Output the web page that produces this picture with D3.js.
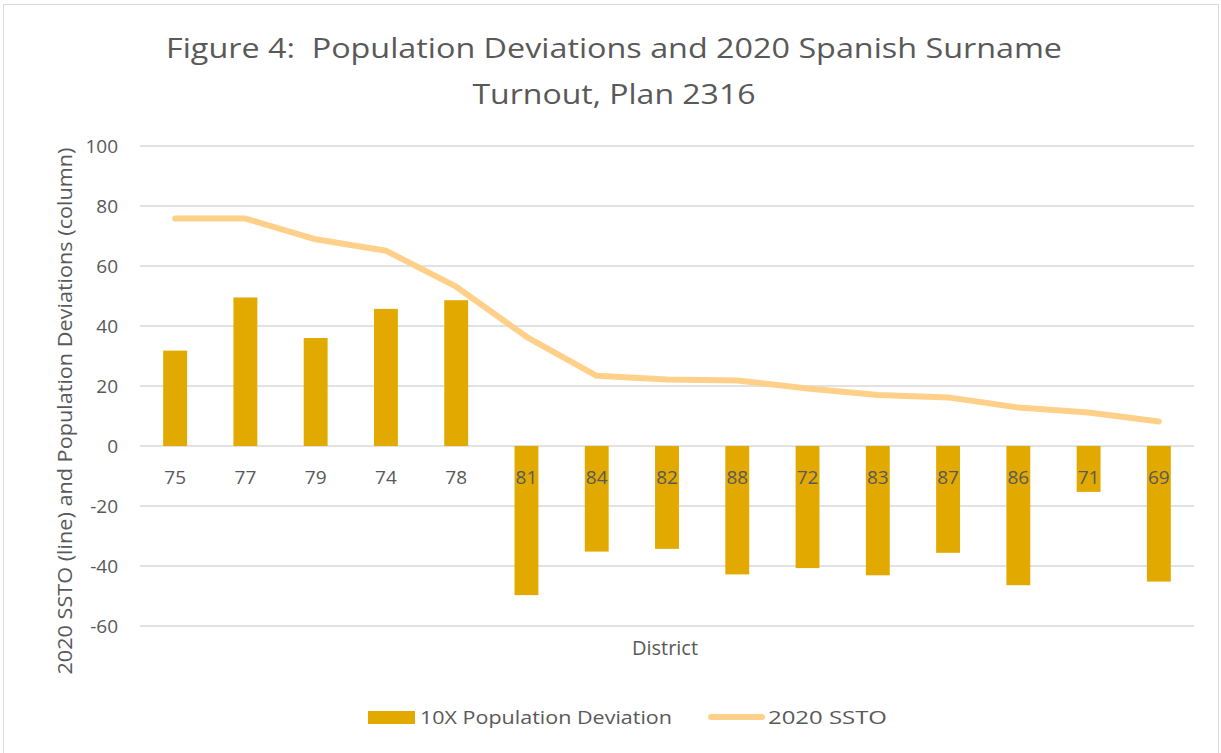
<!DOCTYPE html>
<html>
<head>
<meta charset="utf-8">
<script src="https://cdn.jsdelivr.net/npm/d3@7"></script>
<style>
  body { margin: 0; background: #fff; }
  text { font-family: "Open Sans", "Noto Sans", sans-serif; fill: #595959; white-space: pre; }
</style>
</head>
<body>
<div id="chart"></div>
<script>
// --- DATA ---
const districts = ["75","77","79","74","78","81","84","82","88","72","83","87","86","71","69"];
const popDeviation = [31.8, 49.5, 36.0, 45.7, 48.6, -49.7, -35.2, -34.3, -42.8, -40.7, -43.1, -35.6, -46.4, -15.3, -45.2];
const ssto = [75.8, 75.8, 68.9, 65.1, 53.1, 36.4, 23.4, 22.2, 21.8, 19.2, 17.0, 16.2, 12.8, 11.2, 8.2];
const yTicks = [100, 80, 60, 40, 20, 0, -20, -40, -60];
const titleLines = ["Figure 4:  Population Deviations and 2020 Spanish Surname", "Turnout, Plan 2316"];
const seriesNames = ["10X Population Deviation", "2020 SSTO"];

function drawChart() {
  const W = 1221, H = 753;
  const barColor = "#E2AA00", lineColor = "#FFD08A", gridColor = "#D9D9D9";
  const plot = { left: 140, right: 1194, top: 146, bottom: 626 };

  const svg = d3.select("#chart").append("svg").attr("width", W).attr("height", H);

  // chart frame
  svg.append("rect")
    .attr("x", 3.5).attr("y", 4.5).attr("width", W - 6).attr("height", H)
    .attr("fill", "none").attr("stroke", gridColor).attr("stroke-width", 1);

  const x = d3.scaleBand().domain(districts).range([plot.left, plot.right]).paddingInner(0.66).paddingOuter(0.33);
  const y = d3.scaleLinear().domain([-60, 100]).range([plot.bottom, plot.top]);

  // gridlines
  svg.append("g").selectAll("line").data(yTicks).join("line")
    .attr("x1", plot.left).attr("x2", plot.right)
    .attr("y1", d => y(d)).attr("y2", d => y(d))
    .attr("stroke", gridColor).attr("stroke-width", 1.5);

  // y tick labels
  svg.append("g").selectAll("text").data(yTicks).join("text")
    .attr("x", 118).attr("y", d => y(d)).attr("dy", "0.35em")
    .attr("text-anchor", "end").style("font-size", "19px")
    .text(d => d);

  // bars
  svg.append("g").selectAll("rect").data(districts).join("rect")
    .attr("x", d => x(d))
    .attr("width", x.bandwidth())
    .attr("y", (d, i) => y(Math.max(0, popDeviation[i])))
    .attr("height", (d, i) => Math.abs(y(popDeviation[i]) - y(0)))
    .attr("fill", barColor);

  // category labels (drawn at zero line, over bars)
  svg.append("g").selectAll("text").data(districts).join("text")
    .attr("x", d => x(d) + x.bandwidth() / 2).attr("y", y(0) + 38)
    .attr("text-anchor", "middle").style("font-size", "19px")
    .text(d => d);

  // line
  const line = d3.line()
    .x((d, i) => x(districts[i]) + x.bandwidth() / 2)
    .y(d => y(d));
  svg.append("path").datum(ssto)
    .attr("fill", "none").attr("stroke", lineColor)
    .attr("stroke-width", 6).attr("stroke-linecap", "round").attr("stroke-linejoin", "round")
    .attr("d", line);

  // title
  svg.append("text").attr("x", 614).attr("y", 58).attr("text-anchor", "middle")
    .style("font-size", "28px")
    .attr("textLength", 896).attr("lengthAdjust", "spacingAndGlyphs")
    .text(titleLines[0]);
  svg.append("text").attr("x", 614).attr("y", 104).attr("text-anchor", "middle")
    .style("font-size", "28px")
    .attr("textLength", 283).attr("lengthAdjust", "spacingAndGlyphs")
    .text(titleLines[1]);

  // axis titles
  svg.append("text")
    .attr("transform", `translate(72, ${411}) rotate(-90)`)
    .attr("text-anchor", "middle").style("font-size", "20px")
    .attr("textLength", 527).attr("lengthAdjust", "spacingAndGlyphs")
    .text("2020 SSTO (line) and Population Deviations (column)");
  svg.append("text").attr("x", 665).attr("y", 655).attr("text-anchor", "middle")
    .style("font-size", "20px").text("District");

  // legend
  const lg = svg.append("g");
  lg.append("rect").attr("x", 368).attr("y", 711).attr("width", 47).attr("height", 13).attr("fill", barColor);
  lg.append("text").attr("x", 420).attr("y", 717).attr("dy", "0.35em").style("font-size", "19px")
    .attr("textLength", 252).attr("lengthAdjust", "spacingAndGlyphs")
    .text(seriesNames[0]);
  lg.append("line").attr("x1", 711).attr("x2", 762).attr("y1", 717).attr("y2", 717)
    .attr("stroke", lineColor).attr("stroke-width", 6).attr("stroke-linecap", "round");
  lg.append("text").attr("x", 768).attr("y", 717).attr("dy", "0.35em").style("font-size", "19px")
    .attr("textLength", 119).attr("lengthAdjust", "spacingAndGlyphs")
    .text(seriesNames[1]);
}

drawChart();
</script>
</body>
</html>
